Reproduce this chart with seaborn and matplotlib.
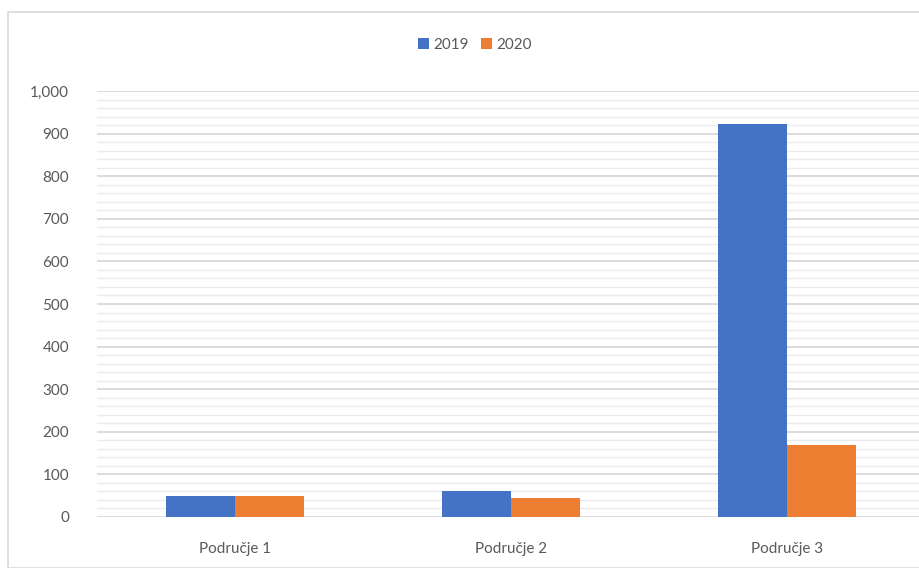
import pandas as pd
import seaborn as sns
import matplotlib.pyplot as plt
from matplotlib.ticker import MultipleLocator, StrMethodFormatter
from matplotlib.patches import Rectangle

# podaci
podrucja = ['Područje 1', 'Područje 2', 'Područje 3']
godine = ['2019', '2020']
v2019 = [50, 60, 922]
v2020 = [50, 45, 168]
boje = ['#4472C4', '#ED7D31']

df = pd.DataFrame({
    'podrucje': podrucja * 2,
    'godina': [godine[0]] * 3 + [godine[1]] * 3,
    'vrijednost': v2019 + v2020,
})

sns.set_style('white')
plt.rcParams['font.family'] = ['Lato', 'DejaVu Sans']

fig = plt.figure(figsize=(9.19, 5.68), dpi=100)
# okvir grafikona
fig.patches.append(Rectangle((8 / 919, 0.0), 1.0, 1 - 12 / 568, transform=fig.transFigure,
                             fill=False, edgecolor='#d9d9d9', linewidth=1.2, zorder=0))
ax = fig.add_axes([97 / 919, 51 / 568, 828 / 919, 426 / 568])

sns.barplot(data=df, x='podrucje', y='vrijednost', hue='godina', hue_order=godine,
            palette=boje, width=0.5, saturation=1, linewidth=0, ax=ax, legend=True)

ax.set_ylim(0, 1000)
ax.yaxis.set_major_locator(MultipleLocator(100))
ax.yaxis.set_minor_locator(MultipleLocator(20))
ax.yaxis.set_major_formatter(StrMethodFormatter('{x:,.0f}'))
ax.grid(axis='y', which='major', color='#d9d9d9', linewidth=1.3)
ax.grid(axis='y', which='minor', color='#ebebeb', linewidth=1.0)
ax.set_axisbelow(True)
for s in ax.spines.values():
    s.set_visible(False)
ax.tick_params(axis='both', which='both', length=0, colors='#595959', labelsize=11)
ax.tick_params(axis='y', pad=20)
ax.tick_params(axis='x', pad=18)
ax.set_xlabel('')
ax.set_ylabel('')

leg = ax.legend(loc='center', bbox_to_anchor=(475 / 919, 1 - 45 / 568),
                bbox_transform=fig.transFigure, ncol=2, frameon=False, fontsize=11,
                handlelength=0.7, handleheight=0.7, handletextpad=0.3, columnspacing=0.8)
for t in leg.get_texts():
    t.set_color('#595959')

plt.savefig('out.png', dpi=100)
